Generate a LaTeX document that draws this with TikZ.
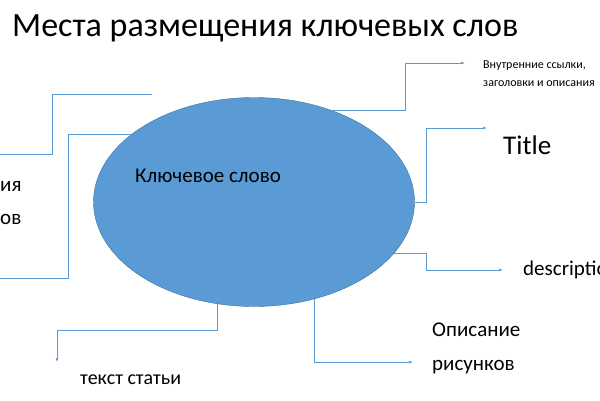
\documentclass[tikz,border=0pt]{standalone}
\usepackage{fontspec}
\setmainfont{Carlito}
\usetikzlibrary{positioning}
\usetikzlibrary{calc}
\usetikzlibrary{shapes.geometric}
\usetikzlibrary{arrows.meta}
\definecolor{kwblue}{RGB}{91,155,213}
\definecolor{kwedge}{RGB}{65,113,156}

\begin{document}
\begin{tikzpicture}[
		x=1pt, y=-1pt,
		every node/.style = {inner sep=0pt, anchor=west, align=left},
		link/.style={draw=kwblue, line width=0.6pt},
		arr/.style={link, -{Latex[length=4pt,width=3pt]}}
		]
		\useasboundingbox (0,0) rectangle (600,400);
		\clip (0,0) rectangle (600,400);
		\node[font=\fontsize{34}{40}\selectfont] (head) at (12,28) {Места размещения ключевых слов};
		% ellipse in the middle
		\node[ellipse, draw=kwedge, fill=kwblue, minimum width=321pt, minimum height=209pt, anchor=center] (kw) at (254,202) {};
		\node[font=\fontsize{21}{25}\selectfont] (kwtext) at (135,176) {Ключевое слово};
		% targets on the right
		\node[font=\fontsize{12}{18}\selectfont, anchor=north west] (links) at (483,61) {Внутренние ссылки,\\заголовки и описания};
		\node[font=\fontsize{27}{32}\selectfont] (title) at (503,145) {Title};
		\node[font=\fontsize{21}{25}\selectfont] (descr) at (523,270) {description};
		\node[font=\fontsize{21}{34}\selectfont, anchor=north west] (pics) at (432,323) {Описание\\рисунков};
		\node[font=\fontsize{20}{24}\selectfont] (body) at (80,380) {текст статьи};
		\node[font=\fontsize{21}{33}\selectfont, anchor=north west] (alt) at (0,181) {ия\\ов};
		% connectors
		\coordinate (a1) at (465,63);
		\coordinate (a2) at (487,128);
		\coordinate (a3) at (503,270);
		\coordinate (a4) at (413,362);
		\coordinate (a5) at (57,362);
		\coordinate (b1) at (405,0);
		\coordinate (b2) at (426,0);
		\coordinate (b5) at (0,330);
		\coordinate (b6) at (68,0);
		\coordinate (l1) at (152,94);
		\coordinate (l2) at (0,154);
		\coordinate (l3) at (0,278);
		\draw[arr] (kw.50) -- (kw.50 -| b1) |- (a1);
		\draw[arr] (kw.east) -- (kw.east -| b2) |- (a2);
		\draw[arr] (kw.-20) -- (kw.-20 -| b2) |- (a3);
		\draw[arr] (kw.-58) |- (a4);
		\draw[arr] (kw.-110) |- (b5 -| a5) -- (a5);
		\draw[link] (l1) -- (52,94) |- (l2);
		\draw[link] (kw.151) -- (kw.151 -| b6) |- (l3);
	\end{tikzpicture}
\end{document}
